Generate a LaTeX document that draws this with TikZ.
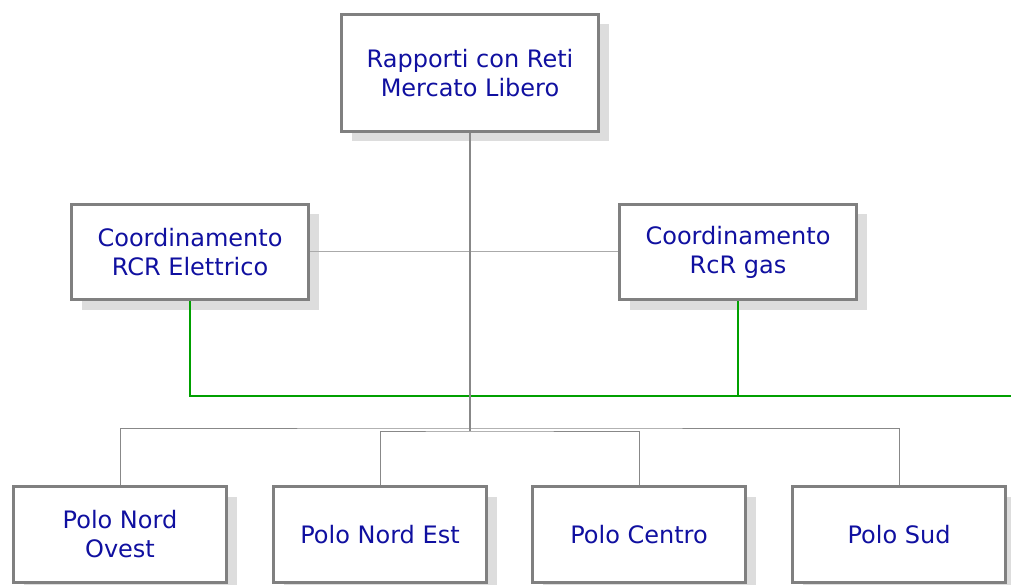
\documentclass[tikz,border=0pt]{standalone}
\usepackage{fontspec}
\newfontfamily\boxfont{DejaVu Sans}
\usetikzlibrary{shadows}
\definecolor{boxborder}{RGB}{128,128,128}
\definecolor{shadowgray}{RGB}{221,221,221}
\definecolor{textblue}{RGB}{16,16,160}
\definecolor{linkgray}{RGB}{136,136,136}
\definecolor{lightlink}{RGB}{170,170,170}
\definecolor{greenlink}{RGB}{0,160,0}
\tikzset{
  orgbox/.style={draw=boxborder, line width=3pt, fill=white, rectangle,
    align=center, text=textblue, inner sep=0pt,
    font=\boxfont\fontsize{24}{29}\selectfont,
    drop shadow={shadow xshift=10pt, shadow yshift=-10pt, fill=shadowgray, opacity=1}},
  toplink/.style={draw=linkgray, line width=2pt},
  thinlink/.style={draw=linkgray, line width=1pt},
  midlink/.style={draw=lightlink, line width=1pt},
  greenline/.style={draw=greenlink, line width=1.8pt}
}
\begin{document}
\begin{tikzpicture}[x=1pt,y=-1pt]
\useasboundingbox (0,0) rectangle (1011,585);
\node[orgbox, minimum width=257pt, minimum height=117pt] (top) at (470,73) {Rapporti con Reti\\Mercato Libero};
\node[orgbox, minimum width=237pt, minimum height=95pt] (ml) at (190,252) {Coordinamento\\RCR Elettrico};
\node[orgbox, minimum width=237pt, minimum height=95pt] (mr) at (738,252) {Coordinamento\\RcR gas};
\node[orgbox, minimum width=213pt, minimum height=96pt] (b1) at (120,534.5) {Polo Nord\\Ovest};
\node[orgbox, minimum width=213pt, minimum height=96pt] (b2) at (380,534.5) {Polo Nord Est};
\node[orgbox, minimum width=213pt, minimum height=96pt] (b3) at (639,534.5) {Polo Centro};
\node[orgbox, minimum width=213pt, minimum height=96pt] (b4) at (899,534.5) {Polo Sud};
\coordinate (hub) at (470,431);
\coordinate (outer) at (470,428);
\coordinate (greenend) at (1011,396);
\draw[midlink] (ml.east) -- (mr.west);
\draw[greenline] (ml.south) |- (greenend);
\draw[greenline] (mr.south) |- (greenend);
\draw[thinlink] (b1.north) |- (outer) -| (b4.north);
\draw[thinlink] (b2.north) |- (hub) -| (b3.north);
\draw[toplink] (top.south) -- (hub);
\end{tikzpicture}
\end{document}
